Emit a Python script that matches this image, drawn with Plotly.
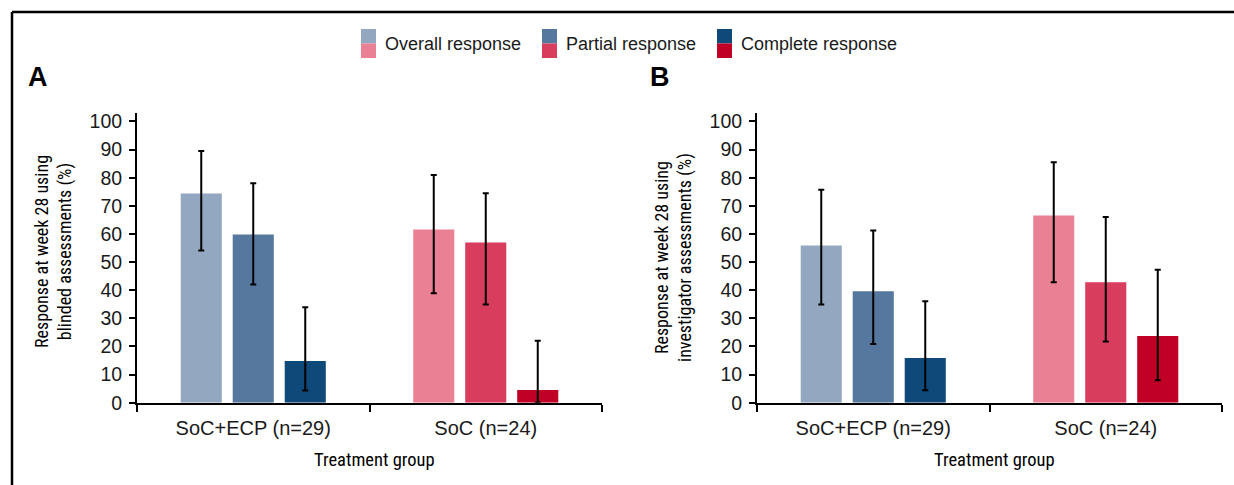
import plotly.graph_objects as go

# ---------------- data ----------------
groups = ["SoC+ECP (n=29)", "SoC (n=24)"]
series_names = ["Overall response", "Partial response", "Complete response"]

# Panel A: blinded assessments (%)
A_overall = [74.4, 61.6]
A_overall_lo = [54.1, 38.9]
A_overall_hi = [89.5, 81.0]
A_partial = [59.8, 57.0]
A_partial_lo = [42.0, 34.9]
A_partial_hi = [78.0, 74.5]
A_complete = [14.8, 4.5]
A_complete_lo = [4.3, 0.1]
A_complete_hi = [33.9, 22.0]

# Panel B: investigator assessments (%)
B_overall = [55.9, 66.6]
B_overall_lo = [34.9, 42.8]
B_overall_hi = [75.7, 85.5]
B_partial = [39.6, 42.8]
B_partial_lo = [20.9, 21.8]
B_partial_hi = [61.2, 66.0]
B_complete = [15.9, 23.7]
B_complete_lo = [4.4, 8.0]
B_complete_hi = [36.1, 47.3]

y_ticks = [0, 10, 20, 30, 40, 50, 60, 70, 80, 90, 100]

# ---------------- styles ----------------
blue = ["#93A8C0", "#56789E", "#0E497A"]
red = ["#E98093", "#D83D5E", "#C00024"]
W, H = 1234, 485
FONT = "Liberation Sans, Arial, Helvetica, sans-serif"
NARROW = "Liberation Sans Narrow, Arial Narrow, Roboto Condensed, sans-serif"


def px(x):
    return x / W


def py(y):
    return 1 - y / H


panels = [
    ("x", "y", [A_overall, A_partial, A_complete],
     [A_overall_lo, A_partial_lo, A_complete_lo],
     [A_overall_hi, A_partial_hi, A_complete_hi]),
    ("x2", "y2", [B_overall, B_partial, B_complete],
     [B_overall_lo, B_partial_lo, B_complete_lo],
     [B_overall_hi, B_partial_hi, B_complete_hi]),
]

fig = go.Figure()
for xa, ya, vals, los, his in panels:
    for k in range(3):
        v, lo, hi = vals[k], los[k], his[k]
        fig.add_trace(go.Bar(
            x=groups, y=v, name=series_names[k], xaxis=xa, yaxis=ya,
            marker=dict(color=[blue[k], red[k]], line=dict(width=0)),
            error_y=dict(type="data", symmetric=False,
                         array=[h - a for h, a in zip(hi, v)],
                         arrayminus=[a - l for a, l in zip(v, lo)],
                         color="black", thickness=2, width=3),
            showlegend=False,
        ))

xcommon = dict(showline=True, linecolor="black", linewidth=2, ticks="outside",
               tickson="boundaries", ticklen=7, tickwidth=1.5, tickcolor="black",
               tickfont=dict(family=FONT, size=20, color="#1a1a1a"),
               showgrid=False, zeroline=False, automargin=False,
               ticklabelstandoff=6, fixedrange=True)
ycommon = dict(showline=True, linecolor="black", linewidth=2, ticks="outside",
               ticklen=6, tickwidth=1.5, tickcolor="black",
               tickfont=dict(family=FONT, size=19.5, color="#1a1a1a"),
               tickvals=y_ticks, range=[0, 103], showgrid=False, zeroline=False,
               automargin=False, ticklabelstandoff=3, fixedrange=True,
               domain=[py(402.7), py(113)])

annotations = [
    dict(text="<b>A</b>", x=px(26), y=py(77), xanchor="left", yanchor="middle",
         font=dict(family=FONT, size=27, color="black")),
    dict(text="<b>B</b>", x=px(648), y=py(77), xanchor="left", yanchor="middle",
         font=dict(family=FONT, size=27, color="black")),
    dict(text="Response at week 28 using<br>blinded assessments (%)",
         x=px(53), y=py(252), textangle=-90, xanchor="center", yanchor="middle",
         font=dict(family=NARROW, size=18, color="black")),
    dict(text="Response at week 28 using<br>investigator assessments (%)",
         x=px(673), y=py(258), textangle=-90, xanchor="center", yanchor="middle",
         font=dict(family=NARROW, size=18, color="black")),
    dict(text="Treatment group", x=px(374), y=py(460), xanchor="center", yanchor="middle",
         font=dict(family=NARROW, size=18.5, color="black")),
    dict(text="Treatment group", x=px(994), y=py(460), xanchor="center", yanchor="middle",
         font=dict(family=NARROW, size=18.5, color="black")),
]

shapes = [
    dict(type="line", x0=px(12), x1=px(1240), y0=py(12), y1=py(12),
         line=dict(color="black", width=2.5)),
    dict(type="line", x0=px(12), x1=px(12), y0=py(12), y1=py(490),
         line=dict(color="black", width=2.5)),
]

# custom legend: two-tone swatches
legend_x = [361, 542, 717]
for k in range(3):
    x0 = legend_x[k]
    shapes.append(dict(type="rect", x0=px(x0), x1=px(x0 + 15), y0=py(43.5), y1=py(29),
                       fillcolor=blue[k], line=dict(width=0)))
    shapes.append(dict(type="rect", x0=px(x0), x1=px(x0 + 15), y0=py(58), y1=py(43.5),
                       fillcolor=red[k], line=dict(width=0)))
    annotations.append(dict(text=series_names[k], x=px(x0 + 22), y=py(44),
                            xanchor="left", yanchor="middle",
                            font=dict(family=FONT, size=18, color="#1a1a1a")))

for a in annotations:
    a.update(xref="paper", yref="paper", showarrow=False)
for s in shapes:
    s.update(xref="paper", yref="paper", layer="above")

fig.update_layout(
    width=W, height=H, margin=dict(l=0, r=0, t=0, b=0),
    paper_bgcolor="white", plot_bgcolor="white",
    barmode="group", bargap=0.329, bargroupgap=0.21,
    xaxis=dict(domain=[px(137), px(602)], anchor="y", **xcommon),
    xaxis2=dict(domain=[px(757), px(1222)], anchor="y2", **xcommon),
    yaxis=dict(anchor="x", **ycommon),
    yaxis2=dict(anchor="x2", **ycommon),
    annotations=annotations, shapes=shapes,
)

fig.write_html("out.html", config=dict(displayModeBar=False),
               post_script="document.body.style.margin='0';document.body.style.overflow='hidden';")
